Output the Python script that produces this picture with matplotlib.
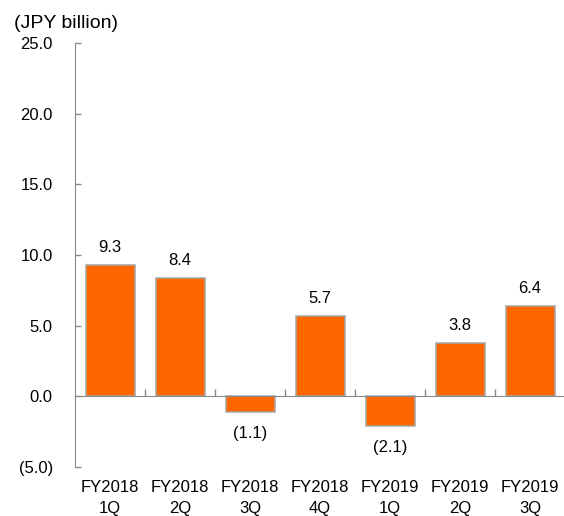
import numpy as np
import matplotlib.pyplot as plt

plt.rcParams['font.family'] = ['Liberation Sans', 'DejaVu Sans']

quarters = ['FY2018\n1Q', 'FY2018\n2Q', 'FY2018\n3Q', 'FY2018\n4Q',
            'FY2019\n1Q', 'FY2019\n2Q', 'FY2019\n3Q']
values = [9.3, 8.4, -1.1, 5.7, -2.1, 3.8, 6.4]
yticks = [-5, 0, 5, 10, 15, 20, 25]

bar_color = '#FF6600'
edge_color = '#A6A6A6'
axis_color = '#898989'

fig = plt.figure(figsize=(5.64, 5.16), dpi=100)
ax = fig.add_axes([75 / 564, 1 - 467 / 516, 490 / 564, 424 / 516])

x = np.arange(len(values)) + 0.5
ax.bar(x, values, width=0.7, color=bar_color, edgecolor=edge_color,
       linewidth=1.1, zorder=2)

for xi, v in zip(x, values):
    if v >= 0:
        ax.annotate(f'{v:.1f}', (xi, v), xytext=(0, 7), textcoords='offset points',
                    ha='center', va='bottom', fontsize=12)
    else:
        ax.annotate(f'({abs(v):.1f})', (xi, v), xytext=(0, -10), textcoords='offset points',
                    ha='center', va='top', fontsize=12)

ax.set_xlim(0, len(values))
ax.set_ylim(-5, 25)

# y axis
ax.set_yticks(yticks)
ax.set_yticklabels([f'({abs(t):.1f})' if t < 0 else f'{t:.1f}' for t in yticks])
ax.tick_params(axis='y', direction='in', length=4, width=1, color=axis_color,
               labelsize=12, pad=16)
ax.spines['left'].set_color(axis_color)

# zero line with category separators
ax.spines['bottom'].set_position(('data', 0))
ax.spines['bottom'].set_color(axis_color)
ax.spines['bottom'].set_zorder(3)
ax.set_xticks(np.arange(1, len(values)), minor=True)
ax.set_xticks([])
ax.tick_params(axis='x', which='minor', direction='in', length=5, width=1,
               color=axis_color)
for s in ['top', 'right']:
    ax.spines[s].set_visible(False)

# category labels along the bottom of the plot area
sec = ax.secondary_xaxis(0)
sec.set_xticks(x)
sec.set_xticklabels(quarters, linespacing=1.5)
sec.tick_params(axis='x', length=0, labelsize=12, pad=9)
sec.spines['bottom'].set_visible(False)

fig.text(14 / 564, 1 - 23 / 516, '(JPY billion)', fontsize=14, va='center', ha='left')

plt.savefig('out.png', dpi=100)
